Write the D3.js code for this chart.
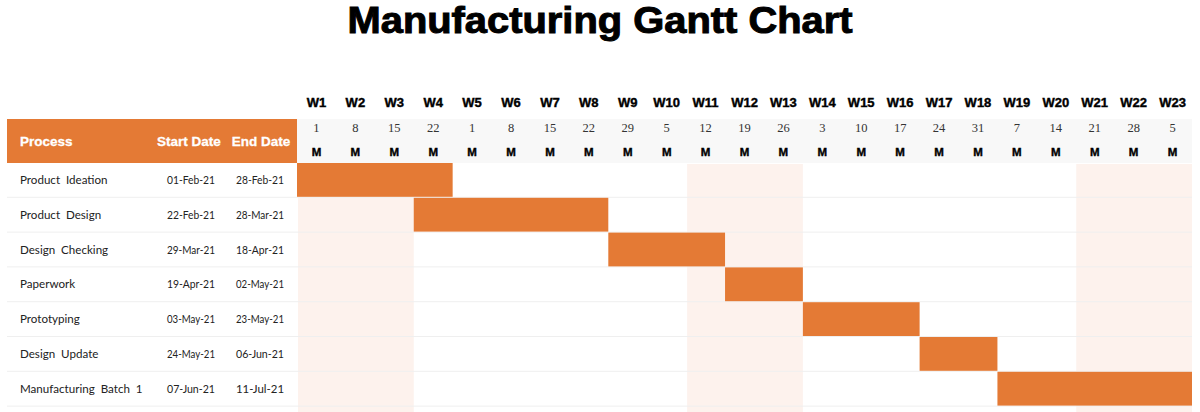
<!DOCTYPE html>
<html>
<head>
<meta charset="utf-8">
<script src="https://cdn.jsdelivr.net/npm/d3@7"></script>
<style>
  body { margin: 0; background: #fff; }
  svg { display: block; }
</style>
</head>
<body>
<svg id="gantt" width="1200" height="412"></svg>
<script>
const processes = ["Product  Ideation", "Product  Design", "Design  Checking", "Paperwork",
    "Prototyping", "Design  Update", "Manufacturing  Batch  1"];
const startDates = ["2021-02-01", "2021-02-22", "2021-03-29", "2021-04-19", "2021-05-03", "2021-05-24", "2021-06-07"];
const endDates = ["2021-02-28", "2021-03-28", "2021-04-18", "2021-05-02", "2021-05-23", "2021-06-06", "2021-07-11"];
const startLabels = ["01-Feb-21", "22-Feb-21", "29-Mar-21", "19-Apr-21", "03-May-21", "24-May-21", "07-Jun-21"];
const endLabels = ["28-Feb-21", "28-Mar-21", "18-Apr-21", "02-May-21", "23-May-21", "06-Jun-21", "11-Jul-21"];

const weekLabels = ["W1", "W2", "W3", "W4", "W5", "W6", "W7", "W8", "W9", "W10", "W11", "W12",
    "W13", "W14", "W15", "W16", "W17", "W18", "W19", "W20", "W21", "W22", "W23"];
const weekStarts = ["2021-02-01", "2021-02-08", "2021-02-15", "2021-02-22", "2021-03-01", "2021-03-08",
    "2021-03-15", "2021-03-22", "2021-03-29", "2021-04-05", "2021-04-12", "2021-04-19", "2021-04-26",
    "2021-05-03", "2021-05-10", "2021-05-17", "2021-05-24", "2021-05-31", "2021-06-07", "2021-06-14",
    "2021-06-21", "2021-06-28", "2021-07-05"];
const dayLabels = ["1", "8", "15", "22", "1", "8", "15", "22", "29", "5", "12", "19", "26",
    "3", "10", "17", "24", "31", "7", "14", "21", "28", "5"];
const shadedWeeks = [["W1", "W3"], ["W11", "W13"], ["W21", "W23"]];

const orange = "#e47a35";
const parse = d3.utcParse("%Y-%m-%d");
const tasks = processes.map((p, i) => ({
    name: p, start: parse(startDates[i]), end: parse(endDates[i]),
    startLabel: startLabels[i], endLabel: endLabels[i]
}));

const svg = d3.select("#gantt");
const gridLeft = 297, gridRight = 1192;
const headTop = 119, headBottom = 163, rowH = 34.8;

const x = d3.scaleUtc()
    .domain([parse(weekStarts[0]), d3.utcDay.offset(parse(weekStarts[weekStarts.length - 1]), 7)])
    .range([gridLeft, gridRight]);
const y = d3.scaleBand()
    .domain(d3.range(tasks.length + 1))
    .range([headBottom, headBottom + rowH * (tasks.length + 1)]);
const weekIdx = d3.scaleBand().domain(weekLabels).range([gridLeft, gridRight]);

// title
svg.append("text")
    .attr("x", 600).attr("y", 33)
    .attr("text-anchor", "middle")
    .attr("font-family", "Liberation Sans, Arial, sans-serif")
    .attr("font-weight", "bold")
    .attr("font-size", 37)
    .attr("stroke", "#000").attr("stroke-width", 1)
    .attr("textLength", 505).attr("lengthAdjust", "spacingAndGlyphs")
    .text("Manufacturing Gantt Chart");

// week header band
svg.append("rect")
    .attr("x", gridLeft).attr("y", headTop)
    .attr("width", gridRight - gridLeft).attr("height", headBottom - headTop)
    .attr("fill", "#f8f8f8");

// shaded week columns
svg.append("g").selectAll("rect")
    .data(shadedWeeks)
    .join("rect")
    .attr("x", d => weekIdx(d[0]) + 1)
    .attr("y", headBottom + 1)
    .attr("width", d => weekIdx(d[1]) + weekIdx.bandwidth() - weekIdx(d[0]) - 1)
    .attr("height", 412 - headBottom)
    .attr("fill", "#fdf2ed");

// row separators
svg.append("g").selectAll("line")
    .data(d3.range(1, tasks.length + 1))
    .join("line")
    .attr("x1", 7).attr("x2", gridRight)
    .attr("y1", d => y(d) - 0.5).attr("y2", d => y(d) - 0.5)
    .attr("stroke", "#efefef");

// left header
svg.append("rect")
    .attr("x", 7).attr("y", headTop)
    .attr("width", gridLeft - 7).attr("height", headBottom - headTop)
    .attr("fill", orange);
const headCols = [["Process", 20, "start"], ["Start Date", 189, "middle"], ["End Date", 261, "middle"]];
svg.append("g").selectAll("text")
    .data(headCols)
    .join("text")
    .attr("x", d => d[1]).attr("y", 146)
    .attr("text-anchor", d => d[2])
    .attr("font-family", "Liberation Sans, Arial, sans-serif")
    .attr("font-weight", "bold").attr("font-size", 13.5)
    .attr("fill", "#fff")
    .attr("stroke", "#fff").attr("stroke-width", 0.3)
    .text(d => d[0]);

// week labels
const wk = svg.append("g");
wk.selectAll("text.w")
    .data(weekLabels)
    .join("text").attr("class", "w")
    .attr("x", d => weekIdx(d) + weekIdx.bandwidth() / 2).attr("y", 107)
    .attr("text-anchor", "middle")
    .attr("font-family", "Liberation Sans, Arial, sans-serif")
    .attr("font-weight", "bold").attr("font-size", 13)
    .attr("stroke", "#000").attr("stroke-width", 0.4)
    .text(d => d);
wk.selectAll("text.d")
    .data(dayLabels)
    .join("text").attr("class", "d")
    .attr("x", (d, i) => x(parse(weekStarts[i])) + weekIdx.bandwidth() / 2).attr("y", 132)
    .attr("text-anchor", "middle")
    .attr("font-family", "Liberation Serif, Times New Roman, serif")
    .attr("font-size", 12.5).attr("fill", "#333")
    .text(d => d);
wk.selectAll("text.m")
    .data(weekStarts)
    .join("text").attr("class", "m")
    .attr("x", d => x(parse(d)) + weekIdx.bandwidth() / 2).attr("y", 156)
    .attr("text-anchor", "middle")
    .attr("font-family", "Liberation Sans, Arial, sans-serif")
    .attr("font-weight", "bold").attr("font-size", 11.5)
    .attr("stroke", "#000").attr("stroke-width", 0.4)
    .text("M");

// bars
svg.append("g").selectAll("rect")
    .data(tasks)
    .join("rect")
    .attr("x", d => x(d.start))
    .attr("y", (d, i) => y(i))
    .attr("width", d => x(d3.utcDay.offset(d.end, 1)) - x(d.start))
    .attr("height", y.bandwidth() - 1)
    .attr("fill", orange);

// table rows
const rows = svg.append("g").selectAll("g")
    .data(tasks)
    .join("g")
    .attr("transform", (d, i) => `translate(0,${y(i) + y.bandwidth() / 2 + 3.5})`)
    .attr("font-family", "Lato, Noto Sans, sans-serif")
    .attr("fill", "#222");
rows.append("text").attr("x", 20).attr("font-size", 11.6).style("white-space", "pre").text(d => d.name);
rows.append("text").attr("x", 191).attr("font-size", 12).attr("text-anchor", "middle")
    .attr("textLength", 48).attr("lengthAdjust", "spacingAndGlyphs").text(d => d.startLabel);
rows.append("text").attr("x", 260).attr("font-size", 12).attr("text-anchor", "middle")
    .attr("textLength", 48).attr("lengthAdjust", "spacingAndGlyphs").text(d => d.endLabel);
</script>
</body>
</html>
